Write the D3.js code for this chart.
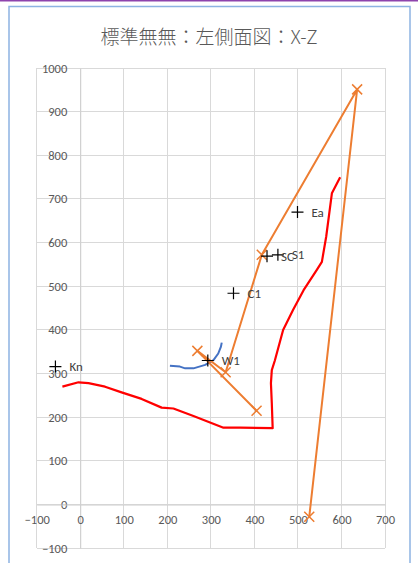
<!DOCTYPE html>
<html><head><meta charset="utf-8">
<script src="https://cdn.jsdelivr.net/npm/d3@7"></script>
<style>
html,body{margin:0;padding:0;background:#fff;}
svg{display:block;}
</style></head>
<body>
<script>
const title = "標準無無：左側面図：X-Z";
const xTicks = [-100,0,100,200,300,400,500,600,700];
const yTicks = [-100,0,100,200,300,400,500,600,700,800,900,1000];

// red line (X, Z)
const redX = [-41,-4,19,57,95,141,187,214,260,329,367,442,440,438,440,447,466,489,513,543,555,565,578,597];
const redZ = [270,280,278,270,257,242,222,220,203,176,176,175,232,278,308,330,400,446,491,537,556,614,713,750];

// blue line
const blueX = [206,229,241,260,287,306,317,323,325];
const blueZ = [318,316,312,312,320,331,346,361,371];

// orange line with X markers
const orangeX = [405,269,334,417,636,526];
const orangeZ = [215,352,303,572,951,-28];

// labelled cross points
const ptNames = ["Kn","W1","Ea","C1","SC","S1"];
const ptX = [-57,293,499,352,429,454];
const ptZ = [316,330,670,484,569,572];

const W=418,H=563;
const svg=d3.select("body").append("svg").attr("width",W).attr("height",H);

// page/frame
svg.append("rect").attr("x",0).attr("y",0).attr("width",W).attr("height",1.5).attr("fill","#8e44ad");
svg.append("rect").attr("x",9).attr("y",6.5).attr("width",401).attr("height",H).attr("fill","#fff")
  .attr("stroke","#8db3e2").attr("stroke-width",1.5);

const x=d3.scaleLinear().domain([-100,700]).range([36.7,385]);
const y=d3.scaleLinear().domain([-100,1000]).range([548.2,68]);

const g=svg.append("g");
// grid
g.append("g").selectAll("line").data(xTicks).join("line")
  .attr("x1",d=>x(d)).attr("x2",d=>x(d)).attr("y1",y(1000)).attr("y2",y(-100))
  .attr("stroke","#d9d9d9").attr("stroke-width",1).attr("shape-rendering","crispEdges");
g.append("g").selectAll("line").data(yTicks).join("line")
  .attr("y1",d=>y(d)).attr("y2",d=>y(d)).attr("x1",x(-100)).attr("x2",x(700))
  .attr("stroke","#d9d9d9").attr("stroke-width",1).attr("shape-rendering","crispEdges");

// axes
const font="Calibri, Carlito, 'Liberation Sans', Arial, sans-serif";
const ax=g.append("g").attr("transform",`translate(${x(0)},0)`)
  .call(d3.axisLeft(y).tickValues(yTicks).tickSize(0).tickPadding(13).tickFormat(d3.format("d")));
const bx=g.append("g").attr("transform",`translate(0,${y(0)})`)
  .call(d3.axisBottom(x).tickValues(xTicks).tickSize(0).tickPadding(11).tickFormat(d3.format("d")));
[ax,bx].forEach(a=>{
  a.select(".domain").attr("stroke","#cfcfcf");
  a.selectAll("text").attr("fill","#595959").style("font-family",font).style("font-size","12.5px");
});

// title
svg.append("text").attr("x",209).attr("y",44).attr("text-anchor","middle")
  .attr("fill","#595959").style("font-family","'Noto Sans CJK JP', sans-serif").style("font-size","19px")
  .style("font-weight","300").text(title);

const line=d3.line().x(d=>x(d[0])).y(d=>y(d[1]));

// red
g.append("path").datum(d3.zip(redX,redZ)).attr("d",line)
  .attr("fill","none").attr("stroke","#ff0000").attr("stroke-width",2.2).attr("stroke-linejoin","round");
// blue
g.append("path").datum(d3.zip(blueX,blueZ)).attr("d",line)
  .attr("fill","none").attr("stroke","#4472c4").attr("stroke-width",2).attr("stroke-linejoin","round");
// orange
const oData=d3.zip(orangeX,orangeZ);
g.append("path").datum(oData).attr("d",line)
  .attr("fill","none").attr("stroke","#ed7d31").attr("stroke-width",2).attr("stroke-linejoin","round");
const s=5;
g.append("g").selectAll("path").data(oData).join("path")
  .attr("d",d=>{const cx=x(d[0]),cy=y(d[1]);return `M${cx-s},${cy-s}L${cx+s},${cy+s}M${cx-s},${cy+s}L${cx+s},${cy-s}`;})
  .attr("stroke","#ed7d31").attr("stroke-width",1.5).attr("fill","none");

// crosses with labels
const pts=ptNames.map((n,i)=>({n,x:ptX[i],z:ptZ[i]}));
const c=6;
g.append("g").selectAll("path").data(pts).join("path")
  .attr("d",d=>{const cx=x(d.x),cy=y(d.z);return `M${cx-c},${cy}L${cx+c},${cy}M${cx},${cy-c}L${cx},${cy+c}`;})
  .attr("stroke","#000").attr("stroke-width",1.2).attr("fill","none");
g.append("g").selectAll("text").data(pts).join("text")
  .attr("x",d=>x(d.x)+14).attr("y",d=>y(d.z)).attr("dy","0.35em")
  .attr("fill","#404040").style("font-family",font).style("font-size","13px").text(d=>d.n);
</script>
</body></html>
